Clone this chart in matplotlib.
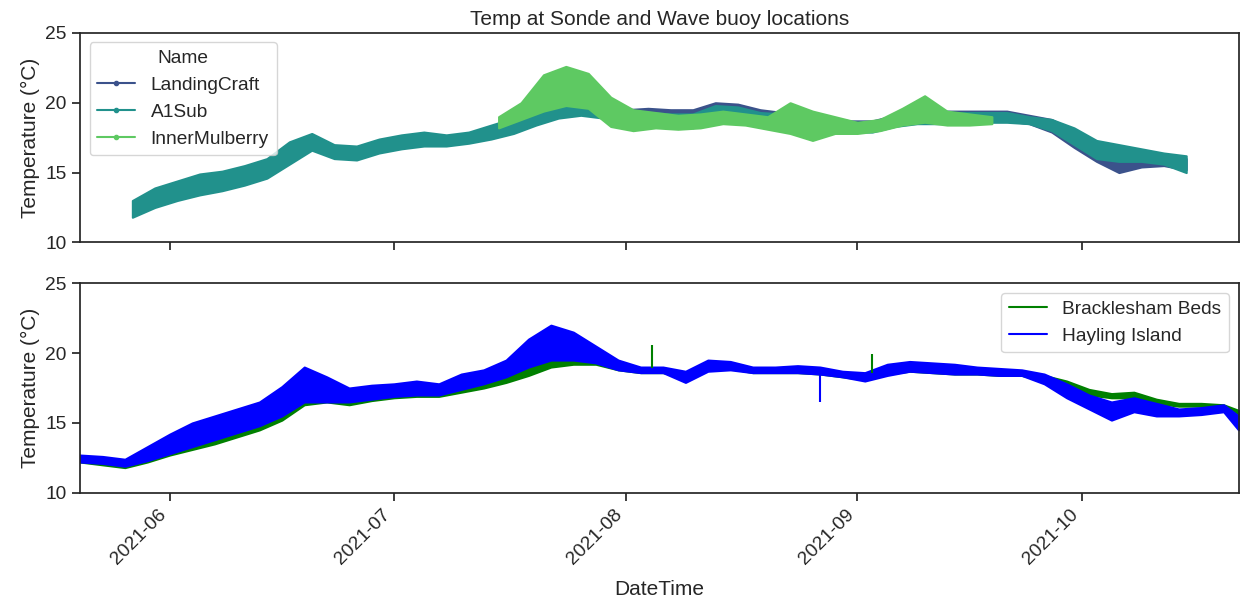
# Temp at Sonde and Wave buoy locations
import numpy as np
import pandas as pd
from matplotlib import pyplot as plt, dates as mdates
from matplotlib.lines import Line2D
import seaborn as sns

sns.set_style('ticks')
sns.set_context('notebook', font_scale=1.25)
plt.rcParams['font.family'] = ['Liberation Sans', 'DejaVu Sans']

# --- sonde data (top): daily band low/high, 3-day steps ---
a1_dates = pd.date_range('2021-05-27', '2021-10-15', freq='3D')
a1_lo = [11.8, 12.5, 13.0, 13.4, 13.7, 14.1, 14.6, 15.6, 16.6, 16.0, 15.9, 16.4,
         16.7, 16.9, 16.9, 17.1, 17.4, 17.8, 18.4, 18.9, 19.1, 18.9, 18.6, 18.6,
         18.5, 18.2, 18.8, 18.8, 18.6, 18.4, 18.3, 18.2, 17.9, 17.9, 18.3, 18.5,
         18.5, 18.5, 18.6, 18.6, 18.5, 18.0, 17.0, 16.0, 15.8, 15.8, 15.6, 15.0]
a1_hi = [13.0, 13.9, 14.4, 14.9, 15.1, 15.5, 16.0, 17.2, 17.8, 17.0, 16.9, 17.4,
         17.7, 17.9, 17.7, 17.9, 18.4, 18.9, 19.4, 19.8, 20.0, 19.7, 19.3, 19.3,
         19.2, 19.2, 19.8, 19.7, 19.3, 19.2, 19.0, 18.9, 18.6, 18.6, 19.0, 19.3,
         19.3, 19.3, 19.3, 19.3, 19.0, 18.8, 18.2, 17.3, 17.0, 16.7, 16.4, 16.2]

lc_dates = pd.date_range('2021-07-29', '2021-10-15', freq='3D')
lc_lo = [18.9, 18.7, 18.7, 18.6, 18.4, 18.9, 18.9, 18.7, 18.5, 18.4, 18.3, 18.0,
         18.0, 18.4, 18.6, 18.6, 18.6, 18.7, 18.7, 18.5, 17.9, 16.8, 15.8, 15.0,
         15.4, 15.5, 15.2]
lc_hi = [19.8, 19.5, 19.6, 19.5, 19.5, 20.0, 19.9, 19.5, 19.3, 19.1, 19.0, 18.7,
         18.7, 19.1, 19.4, 19.4, 19.4, 19.4, 19.4, 19.1, 18.8, 18.0, 17.0, 16.6,
         16.5, 16.2, 16.0]

im_dates = pd.date_range('2021-07-15', '2021-09-19', freq='3D')
im_lo = [18.2, 18.8, 19.4, 19.8, 19.6, 18.3, 18.0, 18.2, 18.1, 18.2, 18.5, 18.4,
         18.1, 17.8, 17.3, 17.8, 17.8, 18.0, 18.4, 18.6, 18.4, 18.4, 18.5]
im_hi = [19.0, 20.0, 22.0, 22.6, 22.1, 20.4, 19.5, 19.3, 19.1, 19.2, 19.4, 19.2,
         19.0, 20.0, 19.4, 19.0, 18.6, 18.8, 19.6, 20.5, 19.4, 19.2, 19.0]

# --- wave buoy data (bottom) ---
wb_dates = pd.date_range('2021-05-20', '2021-10-20', freq='3D').append(pd.DatetimeIndex(['2021-10-22']))
hay_lo = [12.2, 12.1, 11.9, 12.3, 12.8, 13.3, 13.8, 14.3, 14.8, 15.5, 16.5, 16.5,
          16.5, 16.7, 16.9, 17.0, 17.0, 17.4, 17.8, 18.3, 19.0, 19.5, 19.5, 19.3,
          18.8, 18.6, 18.6, 17.9, 18.7, 18.8, 18.6, 18.6, 18.6, 18.5, 18.3, 18.0,
          18.4, 18.7, 18.6, 18.5, 18.5, 18.4, 18.4, 17.8, 16.8, 16.0, 15.2, 15.8,
          15.5, 15.5, 15.6, 15.8, 14.5]
hay_hi = [12.7, 12.6, 12.4, 13.3, 14.2, 15.0, 15.5, 16.0, 16.5, 17.6, 19.0, 18.3,
          17.5, 17.7, 17.8, 18.0, 17.8, 18.5, 18.8, 19.5, 21.0, 22.0, 21.5, 20.5,
          19.5, 19.0, 19.0, 18.7, 19.5, 19.4, 19.0, 19.0, 19.1, 19.0, 18.7, 18.6,
          19.2, 19.4, 19.3, 19.2, 19.0, 18.9, 18.8, 18.5, 17.8, 17.0, 16.5, 16.8,
          16.4, 16.0, 16.1, 16.3, 15.5]
bra_lo = [12.2, 12.0, 11.8, 12.2, 12.7, 13.1, 13.5, 14.0, 14.5, 15.2, 16.3, 16.5,
          16.3, 16.6, 16.8, 16.9, 16.9, 17.2, 17.5, 17.9, 18.4, 19.0, 19.2, 19.2,
          18.8, 18.6, 18.6, 18.2, 18.8, 18.9, 18.6, 18.6, 18.6, 18.5, 18.3, 18.1,
          18.5, 18.7, 18.6, 18.5, 18.5, 18.4, 18.4, 18.0, 17.5, 17.0, 16.8, 16.8,
          16.4, 16.2, 16.2, 16.1, 15.6]
bra_hi = [12.5, 12.4, 12.2, 12.8, 13.4, 13.8, 14.3, 14.8, 15.3, 16.0, 17.2, 17.0,
          16.8, 17.0, 17.2, 17.3, 17.2, 17.6, 18.0, 18.5, 19.5, 20.5, 20.0, 19.6,
          19.1, 18.9, 18.9, 18.5, 19.2, 19.2, 18.9, 18.8, 18.9, 18.8, 18.6, 18.4,
          18.9, 19.2, 19.1, 19.0, 18.9, 18.8, 18.7, 18.4, 18.0, 17.4, 17.1, 17.2,
          16.7, 16.4, 16.4, 16.3, 15.9]
# single-reading spikes: date, base, tip
bra_spike_dates = pd.to_datetime(['2021-08-04 12:00', '2021-09-03 00:00'])
bra_spike_base = [18.9, 18.6]
bra_spike_tip = [20.6, 19.9]
hay_spike_dates = pd.to_datetime(['2021-08-27 00:00'])
hay_spike_base = [18.6]
hay_spike_tip = [16.5]

pal = sns.color_palette('viridis', 3)
names = ['LandingCraft', 'A1Sub', 'InnerMulberry']

fig, axs = plt.subplots(2, 1, figsize=(12.41, 5.98), dpi=100, sharex=True)
fig.subplots_adjust(left=0.0645, right=0.998, top=0.945, bottom=0.176, hspace=0.195)

ax = axs[0]
for (d, lo, hi), c in zip([(lc_dates, lc_lo, lc_hi), (a1_dates, a1_lo, a1_hi), (im_dates, im_lo, im_hi)], pal):
    ax.fill_between(d, lo, hi, color=c, lw=1.5, edgecolor=c)
handles = [Line2D([], [], color=c, marker='o', markersize=3) for c in pal]
ax.legend(handles, names, title='Name', loc='upper left', title_fontsize=13.75)
ax.set_ylim(10, 25)
ax.set_yticks([10, 15, 20, 25])
ax.set_ylabel('Temperature (°C)')
ax.set_title('Temp at Sonde and Wave buoy locations')

ax = axs[1]
ax.fill_between(wb_dates, bra_lo, bra_hi, color='green', lw=1.5, edgecolor='green')
ax.vlines(bra_spike_dates, bra_spike_base, bra_spike_tip, color='green', lw=1.5)
ax.fill_between(wb_dates, hay_lo, hay_hi, color='blue', lw=1.5, edgecolor='blue')
ax.vlines(hay_spike_dates, hay_spike_base, hay_spike_tip, color='blue', lw=1.5)
handles = [Line2D([], [], color='green'), Line2D([], [], color='blue')]
ax.legend(handles, ['Bracklesham Beds', 'Hayling Island'], loc='upper right')
ax.set_ylim(10, 25)
ax.set_yticks([10, 15, 20, 25])
ax.set_ylabel('Temperature (°C)')
ax.set_xlabel('DateTime', labelpad=9)
ax.set_xlim(wb_dates[0], wb_dates[-1])
ax.xaxis.set_major_locator(mdates.MonthLocator())
ax.xaxis.set_major_formatter(mdates.DateFormatter('%Y-%m'))
plt.setp(ax.get_xticklabels(), rotation=45, ha='right')

plt.savefig('out.png', dpi=100)
